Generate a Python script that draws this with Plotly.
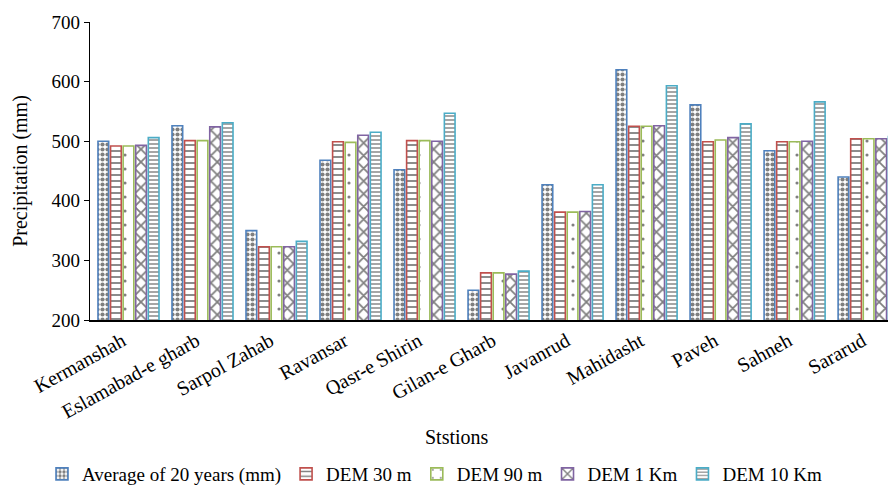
import plotly.graph_objects as go

stations = ["Kermanshah", "Eslamabad-e gharb", "Sarpol Zahab", "Ravansar", "Qasr-e Shirin",
            "Gilan-e Gharb", "Javanrud", "Mahidasht", "Paveh", "Sahneh", "Sararud"]
avg20 = [500, 526, 350, 468, 452, 250, 427, 620, 561, 484, 440]
dem30 = [492, 501, 323, 499, 501, 279, 381, 525, 499, 499, 504]
dem90 = [492, 501, 323, 498, 501, 279, 381, 525, 502, 499, 504]
dem1k = [493, 524, 323, 510, 500, 277, 382, 526, 506, 500, 504]
dem10k = [506, 531, 332, 515, 547, 282, 427, 593, 529, 566, 508]

series = [
    ("Average of 20 years (mm)", avg20, "#4F81BD", ".", 5, 0.55),
    ("DEM 30 m", dem30, "#C0504D", "-", 6, 0.3),
    ("DEM 90 m", dem90, "#9BBB59", ".", 14, 0.04),
    ("DEM 1 Km", dem1k, "#8064A2", "x", 9, 0.35),
    ("DEM 10 Km", dem10k, "#4BACC6", "-", 4, 0.35),
]

fig = go.Figure()
for name, vals, col, shape, size, sol in series:
    fig.add_trace(go.Bar(
        x=stations, y=vals, name=name,
        marker=dict(color="white",
                    line=dict(color=col, width=1.6),
                    pattern=dict(shape=shape, fgcolor="black", bgcolor="white",
                                 size=size, solidity=sol, fillmode="overlay")),
    ))

font_family = "Liberation Serif, serif"
# page body adds an 8px offset; figure sized so plot area lands at x 90..896, y 22..320
FW, FH = 888, 500
PL, PT, PW, PH = 82, 14, 806, 298
fig.update_layout(
    width=FW, height=FH,
    margin=dict(l=PL, r=FW - PL - PW, t=PT, b=FH - PT - PH),
    plot_bgcolor="white", paper_bgcolor="white",
    barmode="group", bargap=0.15, bargroupgap=0.15,
    font=dict(family=font_family, size=19, color="black"),
    showlegend=True,
    legend=dict(orientation="h", xref="paper", x=(42 - 90) / PW, xanchor="left",
                yref="paper", y=-(493 - 320) / PH, yanchor="bottom",
                font=dict(size=19, family=font_family, color="black"),
                itemwidth=30, traceorder="normal"),
    xaxis=dict(range=[-0.52, 10.37], showline=True, linecolor="black", linewidth=1.5,
               tickangle=-29, ticks="", showgrid=False, automargin=False,
               ticklabelshift=-6,
               tickfont=dict(size=20, family=font_family, color="black")),
    yaxis=dict(range=[200, 700], dtick=100, showline=True, linecolor="black", linewidth=1.2,
               ticks="outside", ticklen=5, tickcolor="black", showgrid=False, zeroline=False,
               automargin=False,
               tickfont=dict(size=19, family=font_family, color="black"),
               title=dict(text="Precipitation (mm)", font=dict(size=20, family=font_family, color="black"),
                          standoff=18)),
    annotations=[dict(text="Ststions", xref="paper", yref="paper",
                      x=(457 - 90) / PW, y=-(437 - 320) / PH, xanchor="center", yanchor="middle",
                      showarrow=False, font=dict(size=20, family=font_family, color="black"))],
)

fig.write_html("out.html")
